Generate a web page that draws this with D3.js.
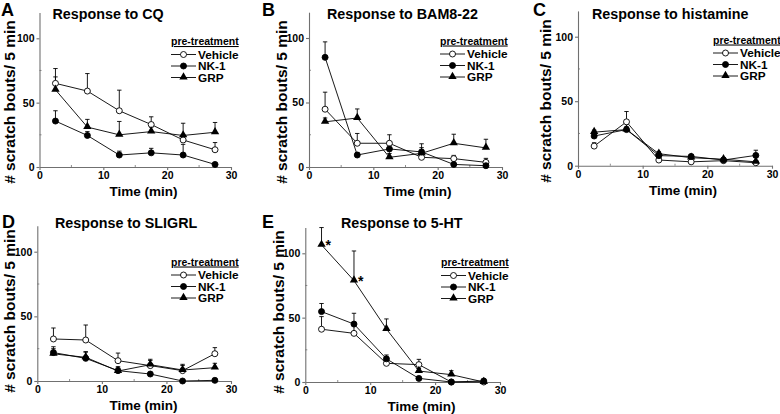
<!DOCTYPE html>
<html>
<head>
<meta charset="utf-8">
<script src="https://cdn.jsdelivr.net/npm/d3@7"></script>
<style>
  body { margin: 0; background: #fff; }
  svg { display: block; font-family: "Liberation Sans", Arial, sans-serif; font-weight: bold; }
</style>
</head>
<body>
<svg id="chart" width="780" height="414"></svg>
<script>
// Data: means and upper SEM per 5-min bin.
var times = [2.5, 7.5, 12.5, 17.5, 22.5, 27.5];
var seriesNames = ["Vehicle", "NK-1", "GRP"];
var panelLetters = ["A", "B", "C", "D", "E"];
var panelTitles = ["Response to CQ", "Response to BAM8-22", "Response to histamine", "Response to SLIGRL", "Response to 5-HT"];
var xTicks = [0, 10, 20, 30];
var xMinorTicks = [5, 15, 25];
var yTicks = [0, 50, 100];
var yMinorTicks = [25, 75];

var cqVehicle = [65, 59, 43.7, 33, 21, 13.4];
var cqVehicleErr = [11.5, 13.6, 16, 6, 4, 5.6];
var cqNK1 = [35.7, 24.5, 9.3, 11, 9.3, 2];
var cqNK1Err = [8, 3, 3, 3.5, 8.3, 0];
var cqGRP = [60, 31, 25, 27.5, 24.5, 27];
var cqGRPErr = [10, 6, 10.4, 3.5, 9.5, 7.6];

var bamVehicle = [44.8, 18.4, 18.4, 7.5, 6.5, 3.6];
var bamVehicleErr = [13.2, 7.6, 6.6, 3, 2.5, 3.1];
var bamNK1 = [85, 9.3, 14, 11.7, 2, 1];
var bamNK1Err = [12, 2, 4, 6.3, 0, 0];
var bamGRP = [35, 38, 7.5, 10.6, 18.4, 14.8];
var bamGRPErr = [3, 7, 3, 4.4, 7, 6.7];

var hisVehicle = [15.2, 34, 4.4, 3, 3.9, 2.3];
var hisVehicleErr = [2.6, 8, 1, 1, 1, 1];
var hisNK1 = [23, 28, 7.8, 7.2, 4.4, 8];
var hisNK1Err = [2, 2, 1.5, 1.5, 1, 4];
var hisGRP = [26, 28, 9.3, 6.2, 5, 3];
var hisGRPErr = [1.6, 2, 1.5, 1.5, 1, 1];

var sliVehicle = [32.5, 31.7, 15.7, 11.9, 8, 21.1];
var sliVehicleErr = [8.5, 11.6, 5.9, 4, 4.9, 4.7];
var sliNK1 = [22, 17.5, 8, 5.4, 0, 0.5];
var sliNK1Err = [4.5, 5.2, 3, 1, 0, 0];
var sliGRP = [21, 18.3, 7.7, 12.6, 8.5, 10.3];
var sliGRPErr = [4, 4, 3, 4.2, 3.5, 3.4];

var htVehicle = [41, 37.8, 14.5, 13.5, 0, 0];
var htVehicleErr = [9.8, 6, 2, 4.1, 0, 0];
var htNK1 = [54.7, 45, 18, 2.8, 0, 0.8];
var htNK1Err = [6.3, 8.4, 3, 0.5, 0, 0];
var htGRP = [106.5, 78.8, 41.2, 8.5, 5.7, 0];
var htGRPErr = [13.5, 23, 7.8, 2, 3.1, 0];

// significance marks: [panel index, time, series]
var asterisks = [[4, 2.5, "GRP"], [4, 7.5, "GRP"]];

var panelData = [
  [[cqVehicle, cqVehicleErr], [cqNK1, cqNK1Err], [cqGRP, cqGRPErr]],
  [[bamVehicle, bamVehicleErr], [bamNK1, bamNK1Err], [bamGRP, bamGRPErr]],
  [[hisVehicle, hisVehicleErr], [hisNK1, hisNK1Err], [hisGRP, hisGRPErr]],
  [[sliVehicle, sliVehicleErr], [sliNK1, sliNK1Err], [sliGRP, sliGRPErr]],
  [[htVehicle, htVehicleErr], [htNK1, htNK1Err], [htGRP, htGRPErr]]
];

var layout = [
  {x0: 39.5, x30: 231, y0: 167, y100: 38.3, letter: [1, 16], title: 52.5, ylab: 9.5, ylabY: 102, xlab: 143.5, legend: [171, 45]},
  {x0: 309, x30: 502, y0: 167, y100: 38, letter: [262, 16], title: 327, ylab: 281, ylabY: 102, xlab: 417.5, legend: [440, 44.5]},
  {x0: 578, x30: 772, y0: 165.7, y100: 36.7, letter: [533, 16], title: 592, ylab: 545, ylabY: 101, xlab: 683, legend: [713, 43.5]},
  {x0: 37.3, x30: 231, y0: 381, y100: 251.7, letter: [2, 228], title: 55, ylab: 9.5, ylabY: 311, xlab: 143.5, legend: [171, 265.5]},
  {x0: 305.3, x30: 500, y0: 382, y100: 253.3, letter: [262, 228], title: 341, ylab: 278.5, ylabY: 312, xlab: 421.5, legend: [441, 266]}
];

var svg = d3.select("#chart");
var axisColor = "#707070";

function drawMarker(g, name, x, y) {
  if (name === "GRP") {
    g.append("path")
      .attr("d", d3.symbol().type(d3.symbolTriangle).size(30)())
      .attr("transform", "translate(" + x + "," + (y - 0.5) + ")")
      .attr("fill", "#000");
  } else {
    g.append("circle")
      .attr("cx", x).attr("cy", y).attr("r", 3)
      .attr("fill", name === "Vehicle" ? "#fff" : "#000")
      .attr("stroke", "#000").attr("stroke-width", 0.9);
  }
}

layout.forEach(function(L, p) {
  var x = d3.scaleLinear().domain([0, 30]).range([L.x0, L.x30]);
  var y = d3.scaleLinear().domain([0, 100]).range([L.y0, L.y100]);
  var g = svg.append("g");

  // axes
  var xAxis = g.append("g").attr("transform", "translate(0," + L.y0 + ")")
    .call(d3.axisBottom(x).tickValues(xTicks).tickSize(3).tickPadding(2).tickSizeOuter(0));
  var yAxis = g.append("g").attr("transform", "translate(" + L.x0 + ",0)")
    .call(d3.axisLeft(y.copy().domain([0, 120]).range([L.y0, L.y0 - 1.2 * (L.y0 - L.y100)]))
      .tickValues(yTicks).tickSize(3).tickPadding(2).tickSizeOuter(0));
  [xAxis, yAxis].forEach(function(a) {
    a.selectAll("path, line").attr("stroke", axisColor).attr("stroke-width", 1.1);
    a.selectAll("text").attr("fill", "#000").attr("font-size", 10.5).attr("font-weight", "bold")
      .attr("font-family", "Liberation Sans, Arial, sans-serif");
  });
  // minor ticks
  g.selectAll(".xminor").data(xMinorTicks).enter().append("line")
    .attr("x1", function(d) { return x(d); }).attr("x2", function(d) { return x(d); })
    .attr("y1", L.y0).attr("y2", L.y0 - 2)
    .attr("stroke", axisColor).attr("stroke-width", 0.8);
  g.selectAll(".yminor").data(yMinorTicks).enter().append("line")
    .attr("y1", function(d) { return y(d); }).attr("y2", function(d) { return y(d); })
    .attr("x1", L.x0).attr("x2", L.x0 + 2)
    .attr("stroke", axisColor).attr("stroke-width", 0.8);

  // labels
  g.append("text").attr("x", L.letter[0]).attr("y", L.letter[1])
    .attr("font-size", 18).text(panelLetters[p]);
  g.append("text").attr("x", L.title).attr("y", L.letter[1] + (p < 3 ? 2.7 : 0))
    .attr("font-size", 14.3).text(panelTitles[p]);
  g.append("text")
    .attr("transform", "translate(" + L.ylab + "," + L.ylabY + ") rotate(-90)")
    .attr("text-anchor", "middle").attr("dy", "0.36em")
    .attr("font-size", 15.5).text("# scratch bouts/ 5 min");
  g.append("text").attr("x", L.xlab).attr("y", L.y0 + 29)
    .attr("text-anchor", "middle").attr("font-size", 13.5).text("Time (min)");

  // series lines
  var line = d3.line().x(function(d) { return x(d[0]); }).y(function(d) { return y(d[1]); });
  panelData[p].forEach(function(s) {
    g.append("path").datum(times.map(function(t, i) { return [t, s[0][i]]; }))
      .attr("d", line).attr("fill", "none").attr("stroke", "#000").attr("stroke-width", 0.9);
  });
  // error bars (upper only)
  panelData[p].forEach(function(s) {
    times.forEach(function(t, i) {
      if (s[1][i] <= 0) return;
      var cx = x(t), top = y(s[0][i] + s[1][i]);
      g.append("line").attr("x1", cx).attr("x2", cx).attr("y1", y(s[0][i])).attr("y2", top)
        .attr("stroke", "#000").attr("stroke-width", 0.9);
      g.append("line").attr("x1", cx - 2.2).attr("x2", cx + 2.2).attr("y1", top).attr("y2", top)
        .attr("stroke", "#000").attr("stroke-width", 0.9);
    });
  });
  // markers
  panelData[p].forEach(function(s, k) {
    times.forEach(function(t, i) { drawMarker(g, seriesNames[k], x(t), y(s[0][i])); });
  });

  // asterisks
  asterisks.filter(function(a) { return a[0] === p; }).forEach(function(a) {
    var k = seriesNames.indexOf(a[2]), i = times.indexOf(a[1]);
    g.append("text").attr("x", x(a[1]) + 4).attr("y", y(panelData[p][k][0][i]) + 5)
      .attr("font-size", 14).text("*");
  });

  // legend
  var lg = g.append("g").attr("transform", "translate(" + L.legend[0] + "," + L.legend[1] + ")");
  lg.append("text").attr("x", 0).attr("y", 0).attr("font-size", 10.5)
    .attr("text-decoration", "underline").text("pre-treatment");
  seriesNames.forEach(function(name, k) {
    var yy = 13.5 + k * 11.5;
    lg.append("line").attr("x1", 0).attr("x2", 25).attr("y1", yy - 4).attr("y2", yy - 4)
      .attr("stroke", "#000").attr("stroke-width", 0.9);
    drawMarker(lg, name, 12.5, yy - 4);
    lg.append("text").attr("x", 27).attr("y", yy).attr("font-size", 11.8).text(name);
  });
});
</script>
</body>
</html>
